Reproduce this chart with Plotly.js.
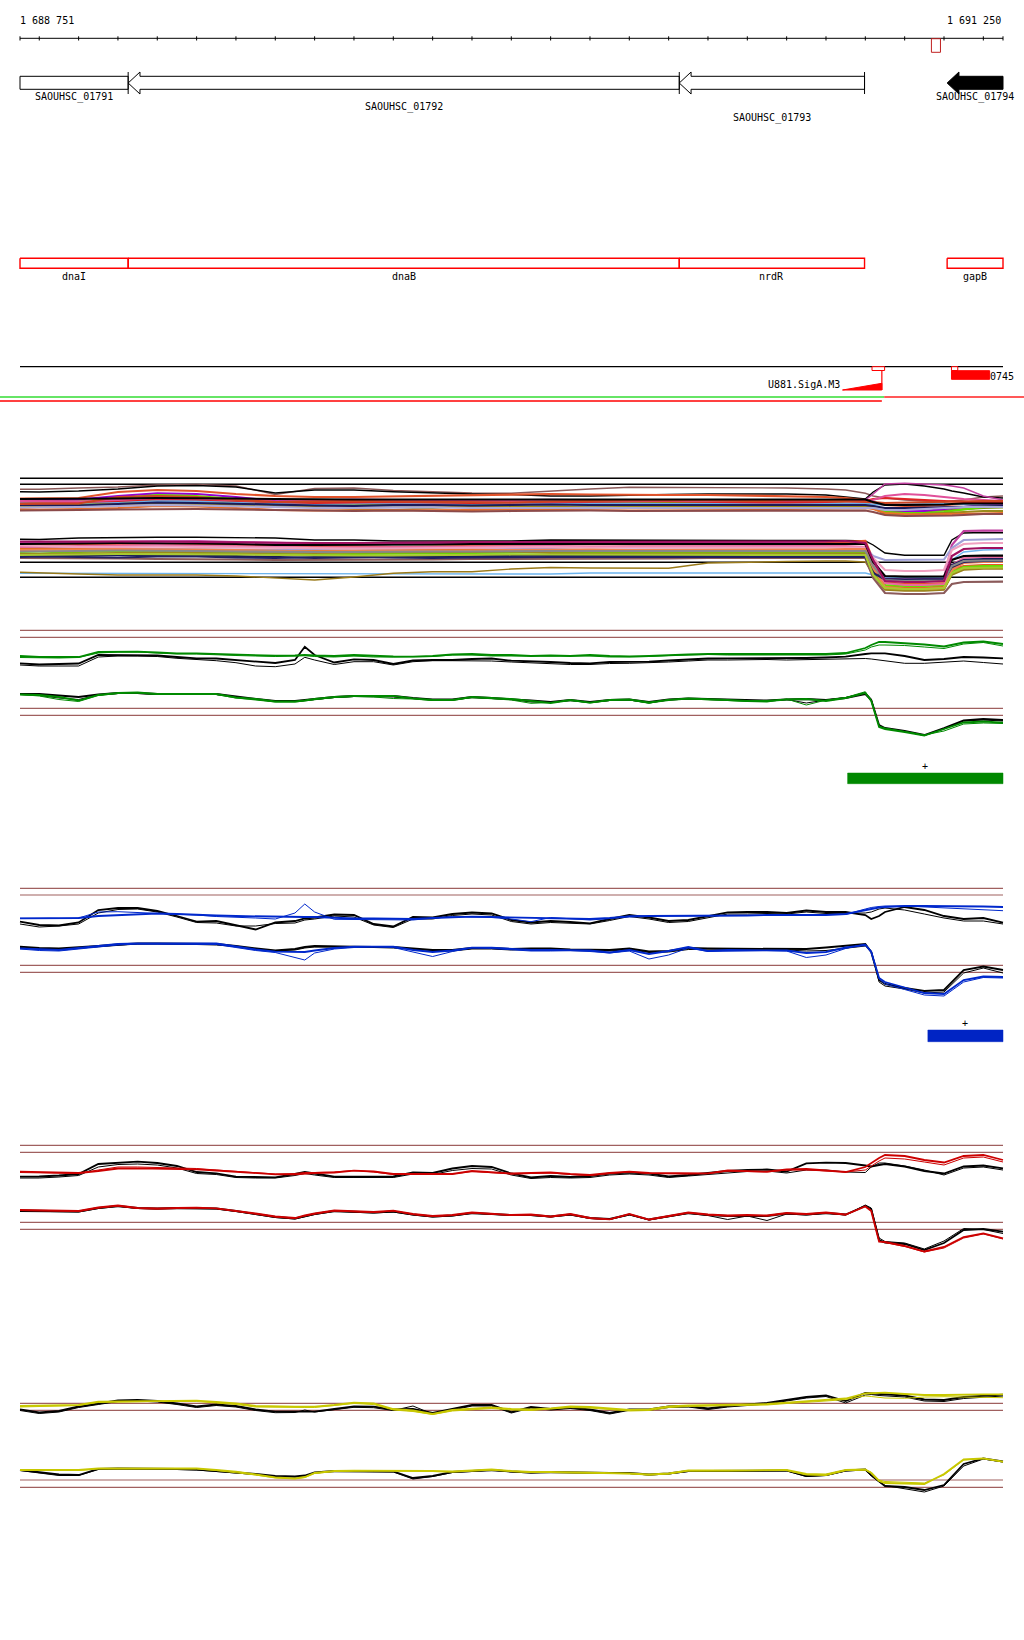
<!DOCTYPE html>
<html><head><meta charset="utf-8">
<script src="https://cdn.plot.ly/plotly-3.0.1.min.js"></script>
<style>html,body{margin:0;padding:0;background:#fff}#chart{width:1024px;height:1640px}</style>
</head><body><div id="chart"></div>
<script>
// ---------------- DATA ----------------
const viewStart = 1688751, viewEnd = 1691250;
const rulerLabels = ['1 688 751', '1 691 250'];
const rulerTicks = [1688800,1688900,1689000,1689100,1689200,1689300,1689400,1689500,1689600,1689700,1689800,1689900,1690000,1690100,1690200,1690300,1690400,1690500,1690600,1690700,1690800,1690900,1691000,1691100,1691200];
const rulerMarkStart = 1691068, rulerMarkEnd = 1691091;

const geneNames = ['SAOUHSC_01791','SAOUHSC_01792','SAOUHSC_01793','SAOUHSC_01794'];
const geneStarts = [1688751, 1689026, 1690427, 1691108];
const geneEnds   = [1689026, 1690427, 1690898, 1691250];
const geneSelected = [false, false, false, true];

const featureNames  = ['dnaI','dnaB','nrdR','gapB'];
const featureStarts = [1688751, 1689026, 1690427, 1691108];
const featureEnds   = [1689026, 1690427, 1690898, 1691250];

const siteNames = ['U881.SigA.M3', '0745'];
const siteStarts = [1690842, 1691119];
const siteEnds = [1690942, 1691216];
const siteMarkStarts = [1690917, 1691119];
const siteMarkEnds = [1690949, 1691135];
const coverageGreenEnd = 1690948;
const coverageRedEnd = 1690942;

const signalStarts = [1690855, 1691059];
const signalEnds = [1691250, 1691250];
const signalStrands = ['+', '+'];

// line tracks: shared positions
const trackX = [1688751,1688800,1688850,1688900,1688950,1689000,1689050,1689100,1689150,1689200,1689250,1689300,1689350,1689400,1689450,1689475,1689500,1689550,1689600,1689650,1689700,1689750,1689800,1689850,1689900,1689950,1690000,1690050,1690100,1690150,1690200,1690250,1690300,1690350,1690400,1690450,1690500,1690550,1690600,1690650,1690700,1690750,1690800,1690850,1690900,1690915,1690935,1690950,1691000,1691050,1691100,1691150,1691200,1691250];

const greenUpperA = [94,93,93,93,98,98.3,98.3,97.5,96.7,96.7,96,95.3,95,94.3,94.5,95,94.5,94,95,94,93.5,93.3,94,95.5,96,95,95,94,94.5,94,95,94,93.5,94,95,95.5,96,96,96.5,96,96,96.5,96,97,102,105,108,108,107,105.5,103.5,107.5,108.5,106];
const greenUpperB = [92.5,92,92,92.5,97,98,98,97,96,96,95,94.5,94,93.5,94,94.5,93.5,93,94,93,93,93,93.5,95,95,94,94,93.5,94,93.5,94,93,93,93.5,94.5,95,95.5,95,95,95,95.5,95.5,95,96,100,103,105,105,104.5,103,101.5,106,107.5,104];
const greenUpperCtrlA = [86.7,85.5,86,86.5,95,95,95,94.5,93,91.7,91.5,90,88.5,87,90,103.3,95,87.5,90.7,90,86,89.5,90,90,91,91.5,89.3,89,88,87,86.7,88,88,88.3,89.5,90.5,91.5,91.7,91.7,92,91.5,92,92.5,93.3,96,96.7,96.7,96.7,94,90,91,93,92.5,91.7];
const greenUpperCtrlB = [85,84,84,84,93,94,94,93.5,91.7,90.5,89.3,87.3,84,83.3,86,92.7,90,85.5,88.3,88.3,85,88.3,89.3,89.3,89.3,89,88,87,86,85.5,85.5,86.5,86.7,87,88,89,90,90,90.5,90.5,90,90.5,91,91.5,91.5,91,90,89,86.7,86.7,88,89,87.5,86];
const greenLowerA = [55.5,55,53,49.5,55,57,57.5,56,56,56,56,52.5,51,48.5,48.5,49.5,51,53,54,54,54,51.7,50,50,53,52,51,49,47,50,47.3,50,50.5,47.5,50,51.5,51,50,49,49,50.5,51,49,52,57,49,23,21,18,14.5,21,27.5,28.5,27.3];
const greenLowerB = [55.5,54,50.5,48.5,54.5,56.5,57,55.5,55.5,55.5,55.5,52,50,48,48,49,50.5,52.5,53.5,53,51.5,51,49.5,49.5,52.5,51.5,50,46.7,47.5,49.5,47,49.5,50,46.7,50.5,51,50.5,49.5,48.5,48,51,45,50,52.5,58.3,50,24,22,18.5,15,19,26,27,26.5];
const greenLowerCtrlA = [56,56,54.5,53,55.5,57,57,56,56,56,56,53.5,51.5,49,49,50,51.5,53,54,54,54,52,50.5,50.5,53,52,51,49.5,48,50,48,50,50.5,48,50.5,51.5,51,50.5,49.5,49.5,50.5,51,50,52,56,50,25,22,19,15,22,29.5,31,30];
const greenLowerCtrlB = [55.5,54.5,52,50.5,55,56.5,56.5,55.5,55.5,55.5,55.5,53,50.5,48.5,48.5,49.5,51,52.5,53.5,53.5,53,51.5,50,50,52.5,51.5,50.5,48,47.5,49.5,47.5,49.5,50,47,50,51,50.5,50,49,49,50.5,47,50,52.5,57.5,51,24,21.5,18.5,14.5,21,29,30,29];
const greenRefs = [119.7, 112.7, 41.7, 34.7];

const blueUpperA = [131.7,131.7,131.7,132,134,135,136,136.5,136,135,134.5,134,133.5,133,133,133,133,132,131.5,131.5,131,131,132,133,133.3,133,132.5,132,132,131.5,131,132,133.5,134,134,134,134.5,134.5,134.5,135,135,135,135,136,140,141.5,142.5,143,144,144,144,143.5,143.5,143];
const blueUpperB = [131.7,131.5,131.5,132,138,138.3,137.5,136.7,136,135,133.5,133,132,131,137,146,138,130.7,130.7,130.7,130.5,130,132,133.3,133,132.5,131,128.3,132.5,131.5,130,131.5,134,134,134,134,134,134.5,134.5,135,135,135,135,135.5,141,142.5,143.5,144,144,143,142,141,140,139.3];
const blueUpperCtrlA = [128.3,125,124.5,127.5,140,142,142,139,134,128.3,129,125,120.5,127.5,129,131.5,132.5,135.5,135,126,123.5,133,132.5,136,137.5,136.5,130,127.5,129,128,126.7,131,135,132.5,129,130,134,137.7,138,138,137,139.5,138,138,135,131,134,138,143,140,134,131,132,127.3];
const blueUpperCtrlB = [126,123,124,126,137,140.5,141,138,133,127.5,127,124,124,126.5,127,130,131,134,133,125,122.5,131,131,134.5,136,135,128.5,126,127.5,126.5,126,129.5,133.5,131,127.5,128.5,132.5,136,136,136.5,136,138,136.5,136.5,137,138,141,142,140,136,132,129,129,126];
const blueLowerA = [101.7,101,100,102,104,106,106.7,106.7,106.7,106.7,106.5,103.5,100.5,98.3,98,98,99.5,102,103.3,103.3,103.3,100,98,99.5,102.3,102.3,101,100,100,100,99.5,97.5,100,96,99,103,99,100,100,100,99.5,97,98,102.5,105,98,72,68,62.5,57,56,70,73.5,73];
const blueLowerB = [101,99.5,99,101,103,105,106,106,106,106,105.5,102.5,99.5,97.5,93,90,97,101,102.5,103,102.5,98,93.5,98.5,102,101.5,100,99,99,99.5,98.5,97,99,91,95,102,98.5,99,99.5,99.5,99,92.5,95,101.5,106,99,71,66,60.5,55,54,68,72.5,72];
const blueLowerCtrlA = [103.3,102,101.5,102.5,104,105.5,106.5,106.7,106.5,106,106,104,101.5,99.5,101,103,104,104,103.3,103,103,101.5,100,100,102,102,101,101.5,101.5,100.5,100,100,101.5,98.5,99,102,101.5,101.5,101.5,101,101,101,102.5,104,106,98,70,66,62,59,60,80,83.5,80];
const blueLowerCtrlB = [102.5,100.5,100.5,102,103.5,105,106,106,106,105.5,105,103.5,101,99,100,102,103,103,102.5,102.5,102,100.5,99.5,99,101,101,100,100.5,100.5,99.5,99,99,100.5,97.5,98,100.5,101,100.5,100.5,100,100,99,99.5,102,104,99,68,64,61,57,58,77,82,77];
const blueRefs = [161.7, 155, 84.7, 77.7];

const redUpperA = [88.3,88,87.5,87,89,91.5,91.7,91.5,91,90.7,89.5,88.3,86.5,85.7,85.7,86.5,87,87.5,89.3,88.5,86,86,86,86,89,88,86.5,87,87.5,86,85,87,88.3,87,86.7,86.7,86.7,89.5,89,88.3,90.5,91,89.5,88,93,97,102,105,104,100,97.5,104,105,100];
const redUpperB = [87.5,87,87,86.5,90,93,93,92.5,92,91.5,90,88.5,87,86,86.5,87.5,87.5,88,89.5,88,85.5,85.5,85.5,86,88.5,87.5,86,86.5,87,85.5,84.5,86.5,88,86.5,86,86,86.5,89,88.5,88,90,90,89,88,90,94,99,102,101,98,95,102,103,98];
const redUpperCtrlA = [83.3,83.5,84.5,86,96,97.5,98.3,97,94,88,86.7,83.3,83,82.7,86,88,86.5,83.3,83.3,83.3,83.5,87.5,87,91.5,94,93,86.5,82.5,84,83,84,86.5,87.5,86.5,83.5,85,87,89,90,90.5,88.5,96.7,97.3,97,94.5,93.5,95,96,93.5,89,86.5,93.5,94.5,91.7];
const redUpperCtrlB = [82,82,83,84.5,93,95.5,96,95,92,86.5,85.5,82.5,82,82,84.5,86.5,85,82.5,82.5,82.5,82.5,86,85.5,89.5,91.5,91,85,81.5,82.5,82,82.5,85,86,85,82.5,84,85.5,87.5,88.5,89,87,90,90,88,87.5,93,97,97,94,90,85,92,93,90];
const redLowerA = [50,49.7,49.3,49,52.5,54.5,52,51.5,52,52.3,51.7,49.3,46.5,43.5,42,44.5,46.5,49.5,48.5,48,49.3,46,44,45,47.5,46.5,45,45.5,43.5,46,42,40.7,46,40.5,44,47.5,45.5,44.5,45,44.5,47,46,47.5,45.5,53.5,49,18.3,18,14,8.5,13,23,26.7,21.7];
const redLowerB = [49.5,49.5,49,48.5,52,54,51.5,51,51.5,52,51.5,49,46,43,41.5,44,46,49,48,47.5,49,45.5,43.5,44.5,47,46,44.5,45,43,45.5,41.5,40.5,45.5,40,43.5,47,45,44,44.5,44,46.5,45.5,47,45,54,50,19,17.5,13.5,8,12,22,26,21];
const redLowerCtrlA = [49.5,49,48.5,48.5,52,54,52,51.5,52,52,51.5,49,46,43,41.5,44,46,49,48,47.5,48.5,45.5,43.5,44.5,47,46,45,45,43.5,45.5,42,41,45.5,40.5,43.5,47,45,44,44,44,46.5,45.5,47,45.5,54,51,20,17.5,16,10,17,30,31,28.3];
const redLowerCtrlB = [48.5,48.5,48,48,51.5,53.5,51.5,51,51.5,51.5,51,48.5,45.5,42.5,41,43.5,45.5,48.5,47.5,47,48,45,43,44,46.5,45.5,44.5,44.5,43,45,41.5,40.5,45,40,43,46.5,44.5,40.5,44,39.5,46,45,46.5,45,55,52,22,18.5,17,11,19,31.5,30.5,26.5];
const redRefs = [114.7, 107.7, 37.7, 30.7];

const yellowUpperA = [94,94.3,94.5,95,98.3,98.5,98.7,99,99,99.3,98,96.7,94,93.3,93.3,93.3,93.3,95,97.3,96.5,91,89.5,86,90,91.5,92.5,91,90.5,91.7,93.5,93,91.5,90,90.5,93.5,94.5,95,95,95.5,96,97.3,98.5,100,101.5,106.5,106.7,107,107.3,106,105,105,105.5,105.7,105.7];
const yellowUpperB = [93,93.5,94,94.5,97.5,98,98,98.5,98.5,98.5,97,95.5,93,92.5,92.5,92.5,92.5,94.5,96.5,95.5,90,88.5,85.5,89,90.5,91.5,90,89.5,91,92.5,92,90.5,89,89.5,92.5,93.5,94,94,94.5,95,96.5,97.5,99,100.5,104,103.5,102.5,102,101.7,103,103.3,103,102.5,102.3];
const yellowUpperCtrlA = [90.7,87.5,89,93.5,96.5,99.5,100,99,96.5,93.5,95.5,94,90.5,88.3,88.3,88.3,88.3,91,93.7,93.3,90.5,91,87,91,95,95,88,93,91,92.5,90.5,87,90.7,90.7,93.5,94,91.5,94,95.5,97,100,103,104.5,99,107,106.7,106,105.5,104.5,100.5,100,103,104.5,105.3];
const yellowUpperCtrlB = [89.5,86.5,88,92.5,95.5,98.5,99,98,95.5,92.5,94.5,93,89.5,87.3,87.5,90,88,90,92.7,92.3,89.5,94,86,90,94,94,87,92,90,91.5,89.5,86,89.7,89.7,92.5,93,90.5,93,94.5,96,99,102,103.5,97,105,105.5,104.5,104,103,99,98.5,101.5,103,104];
const yellowLowerA = [30,30,30,30,31.7,31.7,31.7,31.7,31.7,31.7,30,28.3,25.5,22.7,21.7,23,27,29,29.3,29.3,29.3,29.3,29,28.5,29.5,30.5,29,28,28,27.7,27.3,27,26.7,25.5,26.5,29.7,29.3,29.5,29.7,30,30,26,25.5,30,30.5,27,19,17,16.5,16,26,40.5,41.7,38.3];
const yellowLowerB = [29.5,29.5,29.5,29.5,31,31,31,31,31,31,29.5,27.5,25,22,21,22.5,26.5,28.5,29,29,29,29,28.5,28,29,30,28.5,27.5,27.5,27.3,27,26.5,26,25,26,29,29,29,29.3,29.5,29.5,25,24.5,29.5,30,28,20,18.5,18,17,25,40,41.3,38];
const yellowLowerCtrlA = [30,28,25.5,25,31,31.5,31.5,31.5,31,30.5,29,28,26,24,23.5,24.5,27.5,29,29,29,28.5,22,24,28,29,30,28.5,27.5,28,27.5,27,27,27,25.5,26.5,29,29,29,29.5,29.5,29.5,24,25,29.5,30.5,25,19,14,13,10,15,36,41.5,38.5];
const yellowLowerCtrlB = [29.5,27,24.5,24.5,30.5,31,31,31,30.5,30,28.5,27.5,25.5,23.5,23,24,27,28.5,28.5,28.5,28,21,23.5,27.5,28.5,29.5,28,27,27.5,27,26.5,26.5,26.5,25,26,28.5,28.5,28.5,29,29,29,23.5,24.5,29,30,24,18,14.5,11,8,14,34,41,38];
const yellowRefs = [96.7, 89.7, 20, 12.7];

// multi-sample track
const sampleX = [1688751,1688800,1688900,1689000,1689100,1689200,1689300,1689400,1689500,1689600,1689700,1689800,1689900,1690000,1690100,1690200,1690300,1690400,1690500,1690600,1690700,1690800,1690850,1690900,1690920,1690950,1691000,1691050,1691100,1691120,1691150,1691200,1691250];
const sampleRefs = [121.7, 115.7, 37.7, 22.7];
const upperSamples = [
 [110.7,110.7,112,113,115,115.5,114,105.5,111.5,112,109.5,108,107,106.7,109,111,112.7,112.7,112.5,112,112,111,110,106.7,104,102,100,99,98,99,100,103,104],
 [108.3,108,109,111,114,114.5,113,107,110,110,108.3,107,106,105.5,104,104,105,105.5,106,106,106,105,103,101,108,115,116,114,111,109,107,103,102],
 [100,99.5,99,101,103,102.5,101,100,99.5,99,100,99.5,99,100,100.5,100,99.5,100,100,99.5,99,99.5,100,100,106,116,116.7,116,115,114,112,104,100],
 [101.5,101.5,102,108,110,109,106,104,103,103,103.5,104,104.5,105.5,106,105.5,105,105,105,104.5,104,103,102,100,97,95,94,94,95,95.5,96,97,98],
 [96.5,96,96,97.5,99.5,99,97.5,96,95.5,95,95.5,96,95.5,96,96,95.5,95,95.5,96,96,95.5,95.5,96,95.5,93,89,88,88.5,89.5,90,91,92,92.5],
 [100,100,100.5,104,106.7,106,103,99,98.5,98,99,99.5,99,98,98,98.5,99,99,98.5,98,98.5,99,99,98,94,90,89,89,91,92,93,95,96],
 [98,98,98.5,102,105,104,101,97,97,97.5,97,96.5,97.5,97,96.5,97,97.5,98,97,96.5,97,97,97,96.5,94,88,87,87,88,89,90,93,94],
 [93.5,93.5,93.5,95,96.5,96,94.5,93,93,93.5,93,93.5,93.5,93,93.5,94,93.5,93,93,93.5,94,93.5,93.5,93,92,91,91,91.5,92,92.5,93,94,94.5],
 [97,96.5,97,98,99,99,98,97,96,96.5,97,96,96,96.5,97,97,96.5,96,96.5,97,97,96.5,96.5,96,95.5,95.5,96,96,96,96,96,96.5,97],
 [94,94,95,96,97,96,95,93.5,93,91,90,92,94,94,93,92.5,93,94,94,93,93.5,94,94,94,92,86,85,86,87,87.5,88,89,89],
 [98.5,98.5,98,99,101,100.5,99,98,97,97.5,98,97.5,97,97.5,98,98,98.5,98.5,98,97.5,97.5,98,98.5,99,101,102,101,100,99,98.5,98,98,98],
 [91,90.5,91,92,94,93.5,92,90,89.5,89.5,90,89.5,90,90.5,91,91,91.5,91.5,91,91,91,91.5,92,92,91,87,86,85.5,86,86,86,86.5,87],
 [99,99,98.5,100,102,101.5,100,98.5,99.5,100.5,100,99,99.5,99,98.5,99,99.5,99.5,99,99.5,100,99.5,99,98,100,104,106,105,103,102,101,100,99],
 [95,95,94.5,96,97.5,97,96,95,94.5,94,95,95,94.5,95,95.5,95,95,95,94.5,95,94.5,95,95,95,94,92,92,92.5,93,93.2,93.5,94,94],
 [92.5,92.5,93,94,95,94.5,93.5,92.5,92,92,92.5,92.5,92,92,92.5,92.5,92,92,92.5,92.5,92.5,92.5,92.5,92.5,92,90,90,91,92,92.5,93,93,93],
 [89.5,89.5,90,90.5,91,91,90.5,90,89,89,89.5,89,88.5,89,89.5,89.5,89,89,89.5,89,89,89.5,89.5,89.5,88,85,84,84,84,84.5,85,86,86],
 [96,96,96.5,103,104,103,100,98,98.5,99,98.5,98,98,97.5,98.5,99,100,100,99.5,99,99.5,99.5,99,98,98,97,97.5,98,98.5,98.7,99,99,99],
 [101,101,101.5,101.5,102,102,101.5,101,100.5,100.5,100.5,100.5,100.5,100.5,101,101,101,101,101,101,101,101,101,100.5,98,95,95,95,95.5,96,96.5,96.5,96.5]
];
const upperColors = ['#8b5a5a','#000000','#c040a0','#e2532b','#7a9a10','#9400d3','#66dd00','#999999','#6aaee8','#9a8a1a','#dd2222','#e8702a','#e0509a','#1a1a5a','#a9a9d9','#8b4a4a','#cc4422','#000000'];
const lowerSamples = [
 [60.7,60.5,62,62.7,62.7,62.7,62.7,62,60,60,59,59,59.5,59,60,60,59.5,60,60,60,60,60,59.5,59,55,47,44.7,44.7,44.7,60,67,67.5,67.3],
 [57,57,58,58.5,59,59,58,57,56,55.5,56,56,56.5,57,57.5,57.5,57.5,58,58,57.5,57.5,58,58,56,40,22,21,21,22,55,69,69.3,69.3],
 [55,55,56,56,56,55.5,55,54.5,54,53,53,53.5,54,55,55.5,56,55.5,55.5,56,56,56,57,58,59,40,18,16,16,17,30,34,35,35],
 [52,52,52,51.5,51,50.5,50,50,50,49.5,50,50,50.5,51,52,53,52.5,52.5,52.5,52.5,53,53,53,52,44,40,40,40,40.5,52,60,60.5,61],
 [26.7,26.7,26.7,26.7,26.7,26.5,26.5,26.5,26.3,26,26,26,26,26,26,27,27,27,27,27,27,27,27,27,25,23,22.5,22.5,23,40,48,50,50.5],
 [27.7,27,26,25,25,25,24,21.7,20,23,26.7,28.3,28.3,31,32.5,32,31.7,31.7,37,38,38.5,39,39,38,25,10,9,9,10,25,30,31,31],
 [51,51.5,51,50.5,50,50,49,48.5,49,49.5,50,50.5,50.5,49.5,49,49,49.5,49.5,49.5,49,49,49,49.5,50,30,14,12.5,12.5,13.5,32,38,39,39.5],
 [47,46.5,48,49,48.5,48,47,46,45.5,46,46,46.5,47,47.5,48,48,47.5,47,47.5,48,47.5,47.5,48,47,28,15,14,14,15,28,33,34,34],
 [53,53.5,54,54.5,55,54.5,53.5,53,52.5,52.5,53,53,53.5,54,54,53.5,53.5,54,54,53.5,54,54,54,53,35,17,15,15,16,35,42,43,43],
 [54.5,54,53,53,53.5,53,52.5,52,51.5,51.5,51.5,52,52,52.5,53,52.5,52.5,53,53,53,52.5,52.5,52.5,52.5,42,30,29,29,30,50,56,57,57],
 [44,44,44.5,45,45,44.5,44,43,42,42.5,43,43,43.5,44,44.5,44.5,44,44,44,44.5,44.5,44.5,44.5,44,28,21,20.5,20.5,21,35,40,41,41],
 [46,46,46.5,47,47.5,47,46.5,47.5,47,47.5,47.5,47.5,48,48.5,47,46.5,46.5,46.5,46.5,46.5,46,46,46.5,46.5,26,11,10,10,11,26,31,32,32],
 [50,50,50.5,51,51,50.5,50,49,48.5,49,49,49,49.5,50,50.5,50.5,50,50,50,50.5,50.5,50.5,51,51,32,13,11,11,12,30,37,38,38],
 [42,42,42,41.5,41,41,40.5,40,40,40,40.5,40.5,41,41,41.5,41.5,41.5,41.5,42,42,42,42,42,42,22,7,6,6,7,16,18,18.3,18.3],
 [43,43.5,43,42.5,43.5,43.5,42.5,42,43,43.5,42.5,42,42.5,43,43,43,43,43.5,43.5,43,43,43,43,43,27,20.5,20,20,20.5,33,38,39,39],
 [48.5,48.5,49,49.5,49.5,49,48.5,48,48,48,48.5,48.5,48.5,49,49,49,49,49,49,49,49,49,49,49,34,20,19,19,19.5,34,39,39.5,39.5],
 [56,56,56.5,57,57,56.5,56,55,55,55,55.5,55.5,56,56,56.5,56.5,56.5,56.5,56.5,56.5,56.5,56.5,56.5,56,38,24,23.3,23.3,23.5,40,44,44.3,44.3],
 [45,45,45.5,46,46,46,45.5,45,44.5,44.5,44.5,45,45,45.5,45.5,45.5,45.5,45.5,45.5,45.5,45.5,45.5,45.5,45,25,12,11,11,12,27,32,32.5,32.5],
 [58.5,58.5,59,59,58.5,58,57.5,57,57,57,57.5,57.5,58,58,58,58,58,58,58.5,58.5,58.5,58.5,59,57,40,19,18,18,19,44,51,52,52]
];
const lowerColors = ['#000000','#c040a0','#e8552a','#a0a0d8','#6cb4ee','#9a7a1a','#e07020','#66dd00','#e86aa0','#f0a0c0','#1a1a5a','#9a8a1a','#f08050','#8b5a5a','#202060','#888888','#000000','#a8c830','#a01060'];

// ---------------- LAYOUT / DRAWING ----------------
const W = 1024, H = 1640;
const bpPerPx = (viewEnd - viewStart) / 983;
const xRange = [viewStart - 20 * bpPerPx, viewStart + 1004 * bpPerPx];
const dom = (top, bottom) => [1 - bottom / H, 1 - top / H];
const FONT = {family: 'DejaVu Sans Mono, Liberation Mono, monospace', size: 10, color: '#000'};
const REF = '#a0605f';

const traces = [];
const annotations = [];
function line(x, y, axis, color, width, extra) {
  traces.push(Object.assign({type: 'scatter', mode: 'lines', x: x, y: y, yaxis: axis,
    line: {color: color, width: width}, hoverinfo: 'skip', showlegend: false}, extra || {}));
}
function poly(x, y, axis, lineColor, width, fill) {
  traces.push({type: 'scatter', mode: 'lines', x: x, y: y, yaxis: axis, fill: 'toself',
    fillcolor: fill, line: {color: lineColor, width: width}, hoverinfo: 'skip', showlegend: false});
}
function label(text, x, y, anchor, xshift) {
  annotations.push({text: text, x: x, y: y, xref: 'x', yref: 'y', showarrow: false,
    xanchor: anchor || 'center', yanchor: 'middle', xshift: xshift || 0, font: FONT});
}

// ruler
line([viewStart, viewEnd], [38.3, 38.3], 'y', '#000', 1);
const tx = [], ty = [];
[viewStart].concat(rulerTicks, [viewEnd]).forEach(t => { tx.push(t, t, null); ty.push(36.3, 40.5, null); });
line(tx, ty, 'y', '#000', 1);
label(rulerLabels[0], viewStart, 20, 'left', -2);
label(rulerLabels[1], viewEnd, 20, 'right', 0);
poly([rulerMarkStart, rulerMarkEnd, rulerMarkEnd, rulerMarkStart, rulerMarkStart], [38.7, 38.7, 52.3, 52.3, 38.7], 'y', '#c02020', 1, 'rgba(255,255,255,0)');

// genes
const headBp = 30;
const geneLabelRows = [97.3, 106.7, 118, 97.3];
geneNames.forEach((name, i) => {
  const s = geneStarts[i], e = geneEnds[i];
  const truncL = s <= viewStart, truncR = e >= viewEnd;
  let xs, ys;
  if (truncL) { xs = [s, e, e, s, s]; ys = [76.3, 76.3, 89.3, 89.3, 76.3]; }
  else { xs = [s, s + headBp, s + headBp, e, e, s + headBp, s + headBp, s];
         ys = [83, 72, 76.3, 76.3, 89.3, 89.3, 94, 83]; }
  poly(xs, ys, 'y', '#000', 1, geneSelected[i] ? '#000' : 'rgba(255,255,255,0)');
  if (!truncR) line([e, e], [72, 94], 'y', '#000', 1);
  label(name, (s + e) / 2, geneLabelRows[i], 'center');
});

// features
featureNames.forEach((name, i) => {
  const s = featureStarts[i], e = featureEnds[i];
  poly([s, e, e, s, s], [258.3, 258.3, 268.3, 268.3, 258.3], 'y', '#ff0000', 1.4, 'rgba(255,255,255,0)');
  label(name, (s + e) / 2, 276, 'center');
});

// sequence line with sites
line([viewStart, viewEnd], [366.7, 366.7], 'y', '#000', 1.2);
siteNames.forEach((name, i) => {
  poly([siteMarkStarts[i], siteMarkEnds[i], siteMarkEnds[i], siteMarkStarts[i], siteMarkStarts[i]],
       [366.7, 366.7, 370.5, 370.5, 366.7], 'y', '#ff0000', 1, '#ffffff');
});
poly([siteStarts[0], siteEnds[0], siteEnds[0], siteStarts[0]], [390, 383.3, 390, 390], 'y', '#ff0000', 1, '#ff0000');
line([siteEnds[0], siteEnds[0]], [370.5, 390], 'y', '#ff0000', 1.2);
label(siteNames[0], siteStarts[0], 384, 'right', -1);
poly([siteStarts[1], siteEnds[1], siteEnds[1], siteStarts[1], siteStarts[1]], [370.7, 370.7, 379.3, 379.3, 370.7], 'y', '#ff0000', 1, '#ff0000');
label(siteNames[1], siteEnds[1], 376, 'left', -2);

// coverage lines
line([xRange[0], coverageGreenEnd], [397, 397], 'y', '#33dd33', 1.6);
line([coverageGreenEnd, xRange[1]], [397, 397], 'y', '#ff2020', 1.3);
line([xRange[0], coverageRedEnd], [401, 401], 'y', '#ff0000', 1.6);

// multi-sample track (y2)
sampleRefs.forEach(v => line([viewStart, viewEnd], [v, v], 'y2', '#000', 1.4));
lowerSamples.forEach((s, i) => line(sampleX, s, 'y2', lowerColors[i], (i === 0 || i === 4 || i === 5) ? 1.4 : 2.2));
upperSamples.forEach((s, i) => line(sampleX, s, 'y2', upperColors[i], (i < 3) ? 1.4 : 2.2));

// expression tracks
const tracks = [
  {axis: 'y3', color: '#008a00', refs: greenRefs, series: [greenUpperCtrlA, greenUpperCtrlB, greenLowerCtrlA, greenLowerCtrlB], colored: [greenUpperA, greenUpperB, greenLowerA, greenLowerB]},
  {axis: 'y4', color: '#0028cc', refs: blueRefs, series: [blueUpperCtrlA, blueUpperCtrlB, blueLowerCtrlA, blueLowerCtrlB], colored: [blueUpperA, blueUpperB, blueLowerA, blueLowerB]},
  {axis: 'y5', color: '#cc0000', refs: redRefs, series: [redUpperCtrlA, redUpperCtrlB, redLowerCtrlA, redLowerCtrlB], colored: [redUpperA, redUpperB, redLowerA, redLowerB]},
  {axis: 'y6', color: '#c8c800', refs: yellowRefs, series: [yellowUpperCtrlA, yellowUpperCtrlB, yellowLowerCtrlA, yellowLowerCtrlB], colored: [yellowUpperA, yellowUpperB, yellowLowerA, yellowLowerB]}
];
const bad = [];
tracks.forEach(t => {
  t.refs.forEach(v => line([viewStart, viewEnd], [v, v], t.axis, REF, 1.2));
  t.series.forEach((s, i) => { if (s.length !== trackX.length) bad.push(t.axis + ' ctrl ' + i + ':' + s.length); line(trackX, s, t.axis, '#000', i % 2 === 0 ? 1.8 : 1); });
  t.colored.forEach((s, i) => { if (s.length !== trackX.length) bad.push(t.axis + ' col ' + i + ':' + s.length); line(trackX, s, t.axis, t.color, i % 2 === 0 ? 1.8 : 1); });
});
upperSamples.concat(lowerSamples).forEach((s, i) => { if (s.length !== sampleX.length) bad.push('sample ' + i + ':' + s.length); });

// signal bars
const signalColors = ['#008800', '#0024c4'];
const signalRows = [[773, 783.7], [1030, 1041.7]];
signalStarts.forEach((s, i) => {
  const e = signalEnds[i], r = signalRows[i];
  poly([s, e, e, s, s], [r[0], r[0], r[1], r[1], r[0]], 'y', signalColors[i], 0.5, signalColors[i]);
  label(signalStrands[i], (s + e) / 2, r[0] - 7, 'center');
});

const layout = {
  width: W, height: H, margin: {l: 0, r: 0, t: 0, b: 0, pad: 0},
  paper_bgcolor: '#ffffff', plot_bgcolor: 'rgba(0,0,0,0)', showlegend: false,
  xaxis: {range: xRange, visible: false, fixedrange: true},
  yaxis: {range: [H, 0], domain: [0, 1], visible: false, fixedrange: true},
  yaxis2: {range: [0, 140], domain: dom(460, 600), visible: false, fixedrange: true, anchor: 'x'},
  yaxis3: {range: [0, 130], domain: dom(620, 750), visible: false, fixedrange: true, anchor: 'x'},
  yaxis4: {range: [0, 170], domain: dom(880, 1050), visible: false, fixedrange: true, anchor: 'x'},
  yaxis5: {range: [0, 120], domain: dom(1140, 1260), visible: false, fixedrange: true, anchor: 'x'},
  yaxis6: {range: [0, 120], domain: dom(1380, 1500), visible: false, fixedrange: true, anchor: 'x'},
  annotations: annotations
};
Plotly.newPlot('chart', traces, layout, {staticPlot: true, displayModeBar: false});
if (bad.length) throw new Error('Length mismatch: ' + bad.join(', '));
</script>
</body></html>
